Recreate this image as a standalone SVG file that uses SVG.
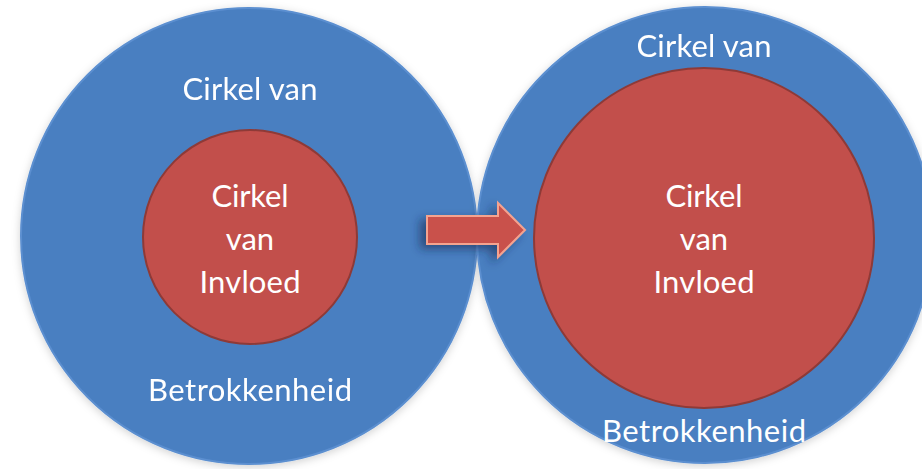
<svg xmlns="http://www.w3.org/2000/svg" width="922" height="469" viewBox="0 0 922 469">
  <defs>
    <style>
      .outer { fill: #4a7fc1; stroke: #5b8fd0; stroke-width: 2; }
      .inner { fill: #c24f4b; stroke: #8e3a37; stroke-width: 2; }
      .lbl { font-family: "Lato", "Open Sans", "Liberation Sans", sans-serif; font-size: 31px; fill: #ffffff; text-anchor: middle; }
      .arrow { fill: #c9514c; stroke: #f5a38f; stroke-width: 2; stroke-linejoin: miter; }
    </style>
    <filter id="soft" x="-20%" y="-20%" width="140%" height="140%">
      <feGaussianBlur in="SourceAlpha" stdDeviation="4"/>
      <feOffset dx="0" dy="2" result="b"/>
      <feFlood flood-color="#000000" flood-opacity="0.18"/>
      <feComposite in2="b" operator="in"/>
      <feMerge><feMergeNode/><feMergeNode in="SourceGraphic"/></feMerge>
    </filter>
    <filter id="ashadow" x="-40%" y="-60%" width="180%" height="220%">
      <feGaussianBlur in="SourceAlpha" stdDeviation="5"/>
      <feOffset dx="-6" dy="4" result="b"/>
      <feFlood flood-color="#1a2a50" flood-opacity="0.6"/>
      <feComposite in2="b" operator="in"/>
      <feMerge><feMergeNode/><feMergeNode in="SourceGraphic"/></feMerge>
    </filter>
  </defs>
  <rect width="922" height="469" fill="#ffffff"/>

  <g id="left-outer" filter="url(#soft)">
    <circle class="outer" cx="249" cy="236" r="228"/>
    <text class="lbl" x="250" y="100" textLength="135">Cirkel van</text>
    <text class="lbl" x="250" y="401" textLength="204">Betrokkenheid</text>
  </g>
  <g id="right-outer" filter="url(#soft)">
    <circle class="outer" cx="705" cy="235" r="228"/>
    <text class="lbl" x="704" y="57" textLength="135">Cirkel van</text>
  </g>
  <g id="left-inner">
    <circle class="inner" cx="250" cy="237" r="107"/>
    <text class="lbl" x="250" y="207" textLength="77">Cirkel</text>
    <text class="lbl" x="250" y="250">van</text>
    <text class="lbl" x="250" y="293" textLength="101">Invloed</text>
  </g>
  <g id="right-inner">
    <circle class="inner" cx="704" cy="238" r="170"/>
    <text class="lbl" x="704" y="207" textLength="77">Cirkel</text>
    <text class="lbl" x="704" y="250">van</text>
    <text class="lbl" x="704" y="293" textLength="101">Invloed</text>
  </g>
  <g id="right-bottom-label">
    <text class="lbl" x="704" y="442" textLength="204">Betrokkenheid</text>
  </g>

  <g id="connectors">
    <path class="arrow" filter="url(#ashadow)" d="M427,216 L498,216 L498,203 L525,230 L498,257 L498,244 L427,244 Z"/>
  </g>
</svg>
